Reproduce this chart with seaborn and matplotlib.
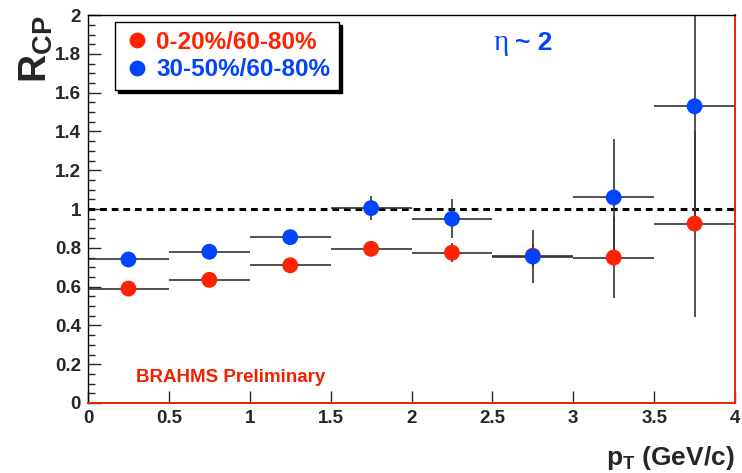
import matplotlib
matplotlib.use("Agg")
import matplotlib.pyplot as plt
import numpy as np
import pandas as pd
import seaborn as sns
from matplotlib.ticker import MultipleLocator

# R_CP vs pT, BRAHMS eta ~ 2
pt = [0.25, 0.75, 1.25, 1.75, 2.25, 2.75, 3.25, 3.75]
pt_halfwidth = [0.25, 0.25, 0.25, 0.25, 0.25, 0.25, 0.25, 0.25]

rcp_central = [0.59, 0.635, 0.71, 0.795, 0.775, 0.76, 0.75, 0.925]
err_central = [0.02, 0.02, 0.02, 0.03, 0.05, 0.06, 0.21, 0.48]

rcp_semi = [0.74, 0.78, 0.855, 1.005, 0.95, 0.755, 1.06, 1.53]
err_semi = [0.02, 0.02, 0.02, 0.06, 0.10, 0.135, 0.30, 0.60]

labels = ["0-20%/60-80%", "30-50%/60-80%"]
colors = ["#ff2200", "#0044ff"]

sns.set_style("ticks")
plt.rcParams["font.family"] = ["Liberation Sans", "DejaVu Sans"]
plt.rcParams["font.weight"] = "bold"
plt.rcParams["mathtext.fontset"] = "custom"
plt.rcParams["mathtext.rm"] = "Liberation Sans:bold"
plt.rcParams["mathtext.bf"] = "Liberation Sans:bold"
plt.rcParams["mathtext.it"] = "Liberation Sans:bold"

df = pd.concat([
    pd.DataFrame({"pt": pt, "rcp": rcp_central, "err": err_central, "set": labels[0]}),
    pd.DataFrame({"pt": pt, "rcp": rcp_semi, "err": err_semi, "set": labels[1]}),
])

fig = plt.figure(figsize=(7.42, 4.73), dpi=100)
ax = fig.add_axes([0.1186, 0.148, 0.872, 0.820])

ax.axhline(1.0, color="black", lw=2.2, ls=(0, (2.2, 1.6)), zorder=1)

for lab in labels:
    sub = df[df["set"] == lab]
    ax.errorbar(sub["pt"], sub["rcp"], xerr=pt_halfwidth, yerr=sub["err"],
                fmt="none", ecolor="#333333", elinewidth=1.2, capsize=0, zorder=2)

sns.scatterplot(data=df, x="pt", y="rcp", hue="set", palette=colors,
                s=130, edgecolor="none", ax=ax, zorder=3, legend=True)

ax.set_xlim(0, 4)
ax.set_ylim(0, 2)
ax.yaxis.set_minor_locator(MultipleLocator(0.05))
ax.set_xticks([0, 0.5, 1, 1.5, 2, 2.5, 3, 3.5, 4])
ax.set_xticklabels(["0", "0.5", "1", "1.5", "2", "2.5", "3", "3.5", "4"])
ax.set_yticks(np.arange(0, 2.01, 0.2))
ax.set_yticklabels(["0", "0.2", "0.4", "0.6", "0.8", "1", "1.2", "1.4", "1.6", "1.8", "2"])
ax.tick_params(axis="both", which="major", direction="in", length=9, width=1,
               labelsize=13.5, pad=5)
ax.tick_params(axis="y", which="minor", direction="in", length=5, width=1)
ax.tick_params(axis="x", which="minor", bottom=False)
ax.tick_params(axis="y", which="both", right=False)
for t in ax.get_xticklabels() + ax.get_yticklabels():
    t.set_fontweight("bold")

for side in ["top", "left"]:
    ax.spines[side].set_color("black")
    ax.spines[side].set_linewidth(1)
for side in ["bottom", "right"]:
    ax.spines[side].set_color("#ee2200")
    ax.spines[side].set_linewidth(1.4)

ax.set_xlabel(r"$\mathbf{p_T}$ (GeV/c)", fontsize=19, fontweight="bold",
              loc="right", labelpad=12)
ax.set_ylabel(r"$\mathbf{R_{CP}}$", fontsize=28, fontweight="bold",
              loc="top", labelpad=0)

handles, _ = ax.get_legend_handles_labels()
leg = ax.legend(handles, labels, loc="upper left", bbox_to_anchor=(0.042, 0.982),
                frameon=True, fancybox=False, shadow={"color": "black", "alpha": 1},
                edgecolor="black", framealpha=1, fontsize=17.5, handletextpad=0.25,
                borderpad=0.35, labelspacing=0.2, markerscale=1.0,
                handlelength=1.1, borderaxespad=0)
leg.get_frame().set_linewidth(1)
for txt, c in zip(leg.get_texts(), colors):
    txt.set_color(c)
    txt.set_fontweight("bold")

ax.text(0.638, 0.928, "η", transform=ax.transAxes, color="#0044ff",
        fontsize=21, fontweight="normal", ha="center", va="center",
        family=["Liberation Serif", "DejaVu Serif"])
ax.text(0.66, 0.928, "~ 2", transform=ax.transAxes, color="#0044ff",
        fontsize=19, fontweight="bold", ha="left", va="center")
ax.text(0.074, 0.065, "BRAHMS Preliminary", transform=ax.transAxes, color="#ee2200",
        fontsize=13.5, fontweight="bold", ha="left", va="center")

fig.savefig("out.png", dpi=100)
